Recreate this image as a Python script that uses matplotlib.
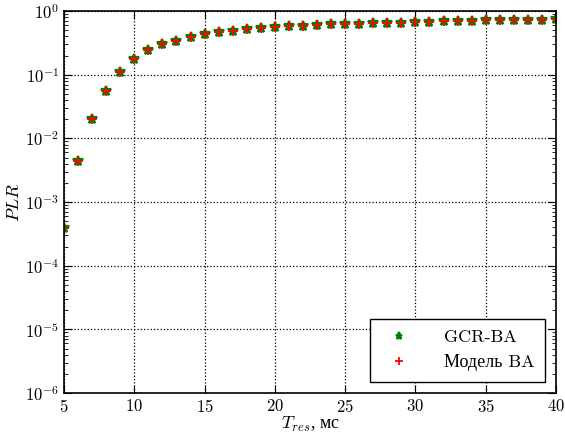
import matplotlib
matplotlib.use('Agg')
import matplotlib.pyplot as plt

t_res = list(range(5, 41))
plr_gcr = [3.9e-4, 4.4e-3, 0.020, 0.055, 0.11, 0.177, 0.24, 0.30, 0.34, 0.39,
           0.44, 0.46, 0.485, 0.515, 0.535, 0.555, 0.575, 0.59, 0.60, 0.62,
           0.625, 0.63, 0.64, 0.655, 0.66, 0.67, 0.68, 0.685, 0.69, 0.70,
           0.71, 0.715, 0.72, 0.73, 0.735, 0.74]
plr_model = list(plr_gcr)

plt.rcParams['font.family'] = ['cmr10', 'Liberation Serif']
plt.rcParams['mathtext.fontset'] = 'cm'
plt.rcParams['axes.formatter.use_mathtext'] = True
plt.rcParams['xtick.direction'] = 'in'
plt.rcParams['ytick.direction'] = 'in'

fig = plt.figure(figsize=(5.65, 4.41), dpi=100)
ax = fig.add_axes([0.1133, 0.1088, 0.8707, 0.8662])

ax.semilogy(t_res, plr_gcr, linestyle='none', marker='*', color='green',
            markerfacecolor='none', markeredgewidth=1.6, markersize=7,
            label='GCR-BA')
ax.semilogy(t_res, plr_model, linestyle='none', marker='+', color='red',
            markersize=7, markeredgewidth=1.3, label='Модель BA')

ax.set_xlim(5, 40)
ax.set_ylim(1e-6, 1)
ax.set_xticks(range(5, 41, 5))
ax.grid(True, which='major', linestyle=':', color='black', linewidth=0.9)
ax.tick_params(which='both', top=True, right=True, labelsize=12)
ax.tick_params(which='major', length=6)
ax.tick_params(which='minor', length=3)
for s in ax.spines.values():
    s.set_linewidth(1.2)

ax.set_xlabel(r'$T_{res}$, мс', fontsize=13, labelpad=0,
              fontfamily='Liberation Serif')
ax.set_ylabel(r'$PLR$', fontsize=13, labelpad=2)

leg = ax.legend(loc='lower right', numpoints=1, fontsize=13, fancybox=False,
                framealpha=1, edgecolor='black', borderpad=0.6,
                handletextpad=1.5, borderaxespad=0.6, markerscale=0.75)
leg.get_frame().set_linewidth(1.0)

fig.savefig('out.png', dpi=100)
